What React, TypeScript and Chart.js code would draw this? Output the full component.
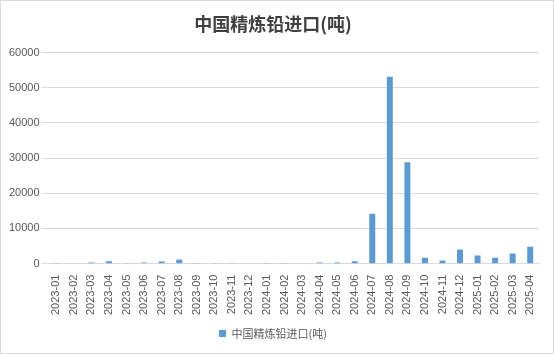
import React, { useEffect, useRef } from "react";
import { Chart, registerables } from "chart.js";

Chart.register(...registerables);

const categories = [
  "2023-01", "2023-02", "2023-03", "2023-04", "2023-05", "2023-06", "2023-07", "2023-08",
  "2023-09", "2023-10", "2023-11", "2023-12", "2024-01", "2024-02", "2024-03", "2024-04",
  "2024-05", "2024-06", "2024-07", "2024-08", "2024-09", "2024-10", "2024-11", "2024-12",
  "2025-01", "2025-02", "2025-03", "2025-04",
];
const leadImports = [
  200, 0, 300, 700, 200, 300, 600, 1200,
  200, 200, 200, 0, 200, 200, 0, 300,
  300, 700, 14200, 53100, 28800, 1700, 900, 4000,
  2300, 1700, 2900, 4800,
];
const seriesName = "中国精炼铅进口(吨)";
const titleText = "中国精炼铅进口(吨)";

export default function App() {
  const ref = useRef<HTMLCanvasElement | null>(null);
  useEffect(() => {
    document.body.style.margin = "0";
    const ctx = ref.current!;
    const chart = new Chart(ctx, {
      type: "bar",
      data: {
        labels: categories,
        datasets: [
          {
            label: seriesName,
            data: leadImports,
            backgroundColor: "#5b9bd5",
            barPercentage: 0.34,
            categoryPercentage: 1,
          },
        ],
      },
      options: {
        animation: false,
        responsive: false,
        maintainAspectRatio: false,
        layout: { padding: { left: 6, right: 14, top: 4, bottom: 4 } },
        plugins: {
          title: {
            display: true,
            text: titleText,
            color: "#404040",
            font: { family: "'Noto Sans CJK SC'", size: 18, weight: "bold" },
            padding: { top: 8, bottom: 18 },
          },
          legend: {
            display: true,
            position: "bottom",
            labels: {
              color: "#595959",
              font: { family: "'Noto Sans CJK SC'", size: 11 },
              boxWidth: 7,
              boxHeight: 7,
              padding: 10,
            },
          },
          tooltip: { enabled: false },
        },
        scales: {
          x: {
            grid: { display: false },
            border: { color: "#d9d9d9" },
            ticks: {
              color: "#595959",
              font: { family: "'Liberation Sans'", size: 11 },
              maxRotation: 90,
              minRotation: 90,
              autoSkip: false,
            },
          },
          y: {
            min: 0,
            max: 60000,
            grid: { color: "#d9d9d9", drawTicks: true, tickLength: 6 },
            border: { display: false },
            ticks: {
              stepSize: 10000,
              color: "#595959",
              font: { family: "'Liberation Sans'", size: 11 },
              padding: 2,
              callback: (v: any) => String(v),
            },
          },
        },
      },
    });
    return () => chart.destroy();
  }, []);
  return (
    <div style={{ width: 554, height: 354, boxSizing: "border-box", border: "1px solid #d9d9d9", background: "#fff" }}>
      <canvas ref={ref} width={552} height={352} style={{ display: "block" }} />
    </div>
  );
}
